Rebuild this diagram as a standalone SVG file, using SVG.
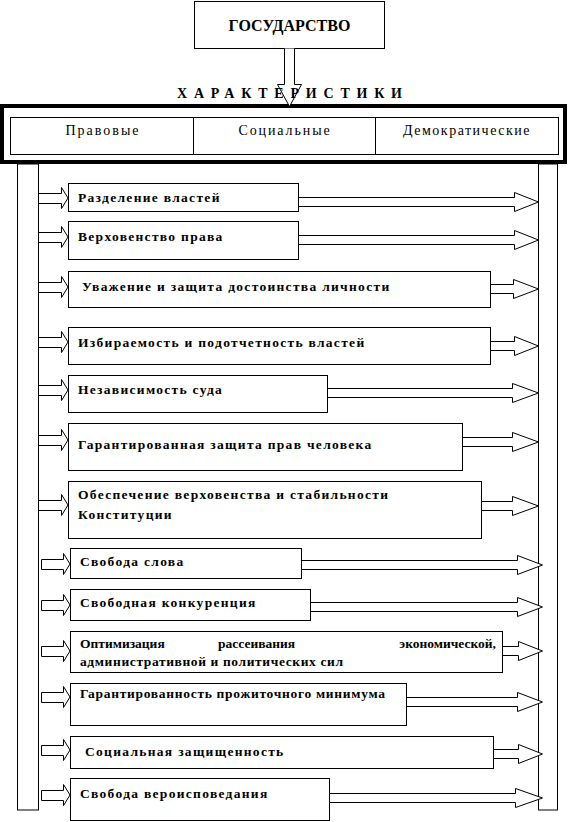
<svg xmlns="http://www.w3.org/2000/svg" width="569" height="822" viewBox="0 0 569 822">
<style>
.bx{fill:#fff;stroke:#000;stroke-width:1}
.ar{fill:#fff;stroke:#000;stroke-width:1}
.t{font-family:"Liberation Serif","Times New Roman",serif;font-size:13.5px;font-weight:bold;fill:#000;letter-spacing:1.3px}
.c{letter-spacing:0}
.h{font-family:"Liberation Serif","Times New Roman",serif;font-size:14px;fill:#000;text-anchor:middle;letter-spacing:1.5px}
</style>
<rect width="569" height="822" fill="#fff"/>
<g id="state">
<rect class="bx" x="194.5" y="1.5" width="190" height="47"/>
<text x="289.5" y="31" font-family="Liberation Serif, serif" font-size="16" font-weight="bold" text-anchor="middle">ГОСУДАРСТВО</text>
</g>
<g id="header">
<rect x="2" y="106" width="563" height="56" fill="#fff" stroke="#000" stroke-width="4"/>
<rect class="bx" x="10.5" y="117.5" width="548" height="37"/>
<line x1="193.5" y1="117.5" x2="193.5" y2="154.5" stroke="#000"/>
<line x1="375.5" y1="117.5" x2="375.5" y2="154.5" stroke="#000"/>
<text class="h" x="103" y="135" style="letter-spacing:2px">Правовые</text>
<text class="h" x="285" y="135" style="letter-spacing:1.9px">Социальные</text>
<text class="h" x="467" y="135">Демократические</text>
</g>
<g id="connectors">
<path class="ar" d="M284.5,48.5 V84.5 H277.5 L289.5,106.5 L301.5,84.5 H294.5 V48.5"/>
<rect class="bx" x="17.5" y="164" width="21" height="646"/>
<rect class="bx" x="538.5" y="164" width="19" height="646"/>
<path class="ar" d="M39,193.5 H61.5 V187.5 L68,198 L61.5,208.5 V203.5 H39"/>
<path class="ar" d="M39,232.5 H61.5 V226.5 L68,237 L61.5,247.5 V242.5 H39"/>
<path class="ar" d="M39,282.5 H61.5 V276.5 L68,287 L61.5,297.5 V292.5 H39"/>
<path class="ar" d="M39,337.5 H61.5 V331.5 L68,342 L61.5,352.5 V347.5 H39"/>
<path class="ar" d="M39,385.5 H61.5 V379.5 L68,390 L61.5,400.5 V395.5 H39"/>
<path class="ar" d="M39,435.5 H61.5 V429.5 L68,440 L61.5,450.5 V445.5 H39"/>
<path class="ar" d="M39,500.5 H61.5 V494.5 L68,505 L61.5,515.5 V510.5 H39"/>
<path class="ar" d="M41.5,559.5 H63.5 V553.5 L70,564 L63.5,574.5 V569.5 H41.5 Z"/>
<path class="ar" d="M41.5,600.5 H63.5 V594.5 L70,605 L63.5,615.5 V610.5 H41.5 Z"/>
<path class="ar" d="M41.5,646.5 H63.5 V640.5 L70,651 L63.5,661.5 V656.5 H41.5 Z"/>
<path class="ar" d="M41.5,692.5 H63.5 V686.5 L70,697 L63.5,707.5 V702.5 H41.5 Z"/>
<path class="ar" d="M41.5,745.5 H63.5 V739.5 L70,750 L63.5,760.5 V755.5 H41.5 Z"/>
<path class="ar" d="M41.5,790.5 H63.5 V784.5 L70,795 L63.5,805.5 V800.5 H41.5 Z"/>
<path class="ar" d="M298.5,197.5 H514.5 V192.5 L538.5,202 L514.5,211.5 V206.5 H298.5"/>
<path class="ar" d="M298.5,235.5 H514.5 V230.5 L538.5,240 L514.5,249.5 V244.5 H298.5"/>
<path class="ar" d="M490.5,284.5 H513.5 V279.5 L538.5,289 L513.5,298.5 V293.5 H490.5"/>
<path class="ar" d="M490.5,341.5 H514.5 V336.5 L538.5,346 L514.5,355.5 V350.5 H490.5"/>
<path class="ar" d="M327.5,388.5 H512.5 V383.5 L538.5,393 L512.5,402.5 V397.5 H327.5"/>
<path class="ar" d="M462.5,437.5 H512.5 V432.5 L538.5,442 L512.5,451.5 V446.5 H462.5"/>
<path class="ar" d="M481.5,501.5 H512.5 V496.5 L538.5,506 L512.5,515.5 V510.5 H481.5"/>
<path class="ar" d="M301.5,560.5 H517.5 V555.5 L542.5,565 L517.5,574.5 V569.5 H301.5"/>
<path class="ar" d="M310.5,602.5 H517.5 V597.5 L542.5,607 L517.5,616.5 V611.5 H310.5"/>
<path class="ar" d="M502.5,646.5 H518.5 V641.5 L542.5,651 L518.5,660.5 V655.5 H502.5"/>
<path class="ar" d="M406.5,697.5 H517.5 V692.5 L542.5,702 L517.5,711.5 V706.5 H406.5"/>
<path class="ar" d="M493.5,749.5 H518.5 V744.5 L542.5,754 L518.5,763.5 V758.5 H493.5"/>
<path class="ar" d="M329.5,793.5 H515.5 V788.5 L542.5,798 L515.5,807.5 V802.5 H329.5"/>
</g>
<text x="177" y="98" font-family="Liberation Serif, serif" font-size="14" font-weight="bold" textLength="225" lengthAdjust="spacing">ХАРАКТЕРИСТИКИ</text>
<g id="n1"><rect class="bx" x="68.5" y="183.5" width="230" height="28"/><text class="t" x="78" y="202">Разделение властей</text></g>
<g id="n2"><rect class="bx" x="68.5" y="221.5" width="230" height="38"/><text class="t" x="78" y="241">Верховенство права</text></g>
<g id="n3"><rect class="bx" x="68.5" y="271.5" width="422" height="36"/><text class="t" x="82" y="291">Уважение и защита достоинства личности</text></g>
<g id="n4"><rect class="bx" x="68.5" y="327.5" width="422" height="37"/><text class="t" x="78" y="347">Избираемость и подотчетность властей</text></g>
<g id="n5"><rect class="bx" x="68.5" y="375.5" width="259" height="37"/><text class="t" x="78" y="394">Независимость суда</text></g>
<g id="n6"><rect class="bx" x="68.5" y="423.5" width="394" height="47"/><text class="t" x="78" y="449">Гарантированная защита прав человека</text></g>
<g id="n7"><rect class="bx" x="68.5" y="481.5" width="413" height="57"/><text class="t" x="78" y="499">Обеспечение верховенства и стабильности</text><text class="t" x="78" y="519">Конституции</text></g>
<g id="n8"><rect class="bx" x="70.5" y="548.5" width="231" height="30"/><text class="t" x="80" y="566">Свобода слова</text></g>
<g id="n9"><rect class="bx" x="70.5" y="589.5" width="240" height="31"/><text class="t" x="80" y="607">Свободная конкуренция</text></g>
<g id="n10"><rect class="bx" x="70.5" y="631.5" width="432" height="41"/><text class="t c" y="648"><tspan x="80">Оптимизация</tspan><tspan x="218">рассеивания</tspan><tspan x="496" text-anchor="end">экономической,</tspan></text><text class="t c" x="80" y="666" textLength="263" lengthAdjust="spacing">административной и политических сил</text></g>
<g id="n11"><rect class="bx" x="70.5" y="683.5" width="336" height="42"/><text class="t c" x="80" y="698" textLength="305" lengthAdjust="spacing">Гарантированность прожиточного минимума</text></g>
<g id="n12"><rect class="bx" x="70.5" y="736.5" width="423" height="32"/><text class="t" x="85" y="756">Социальная защищенность</text></g>
<g id="n13"><rect class="bx" x="70.5" y="778.5" width="259" height="42"/><text class="t" x="80" y="798">Свобода вероисповедания</text></g>
</svg>
